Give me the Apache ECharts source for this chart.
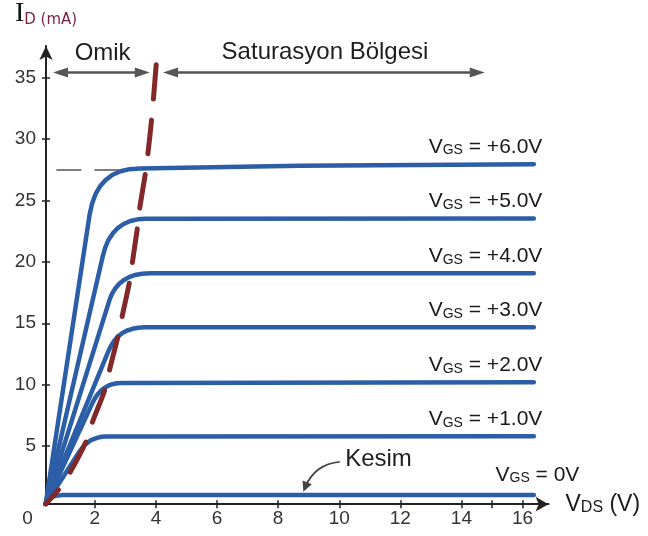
<!DOCTYPE html>
<html><head><meta charset="utf-8">
<script src="https://cdn.jsdelivr.net/npm/echarts@6/dist/echarts.min.js"></script>
<style>html,body{margin:0;padding:0;background:#fff}#c{width:648px;height:536px}</style>
</head><body><div id="c"></div>
<script>
// ---- data (V_DS in volts, I_D in mA) ----
const vgsLabels = ['0V', '+1.0V', '+2.0V', '+3.0V', '+4.0V', '+5.0V', '+6.0V'];
const curve0V = [[0.39,0.27],[0.49,0.63],[0.59,0.84],[0.72,0.94],[0.92,0.99],[1.18,1.0],[16.37,1.0]];
const curve1V = [[0.39,0.27],[1.48,4.49],[1.57,4.79],[1.66,5.05],[1.76,5.26],[1.86,5.45],[1.98,5.58],[2.10,5.68],[2.23,5.75],[2.36,5.76],[16.37,5.79]];
const curve2V = [[0.39,0.27],[1.93,8.55],[2.01,8.92],[2.10,9.24],[2.20,9.51],[2.31,9.73],[2.44,9.91],[2.57,10.03],[2.72,10.11],[2.88,10.13],[16.37,10.19]];
const curve3V = [[0.39,0.27],[2.45,12.77],[2.54,13.21],[2.64,13.60],[2.76,13.93],[2.90,14.20],[3.06,14.41],[3.23,14.55],[3.42,14.64],[3.63,14.68],[16.37,14.67]];
const curve4V = [[0.39,0.27],[2.47,16.83],[2.55,17.35],[2.66,17.81],[2.79,18.20],[2.94,18.51],[3.12,18.76],[3.32,18.94],[3.55,19.04],[3.80,19.07],[16.37,19.07]];
const curve5V = [[0.39,0.27],[2.26,20.48],[2.34,21.19],[2.45,21.81],[2.59,22.34],[2.75,22.76],[2.94,23.09],[3.16,23.34],[3.40,23.47],[3.67,23.52],[16.37,23.54]];
const curve6V = [[0.39,0.27],[1.83,23.89],[1.91,24.76],[2.02,25.52],[2.17,26.16],[2.36,26.69],[2.58,27.10],[2.84,27.39],[3.14,27.56],[3.47,27.62],[8.71,27.83],[16.37,27.97]];
const pinchOff = [[0.39,0.27],[0.8,1.4],[1.23,3.03],[1.73,5.46],[1.94,7.08],[2.32,9.52],[2.49,11.3],[2.76,13.98],[2.92,15.88],[3.14,18.45],[3.25,20.34],[3.41,23.1],[3.47,24.4],[3.67,27.52],[3.85,31.44],[4.02,36.45]];
const xTickValues = [2,4,6,8,10,12,14,15,16];
const xLabelValues = [0.4,2,4,6,8,10,12,14,16];
const yLabelValues = [5,10,15,20,25,30,35];

const FONT = 'Liberation Sans';
const BLUE = '#2c5ea8';
const curves = [curve0V, curve1V, curve2V, curve3V, curve4V, curve5V, curve6V];

function vgsRich() {
  return {
    v: {fontSize: 21, fontFamily: FONT, color: '#1a1a1a', lineHeight: 21, verticalAlign: 'bottom'},
    s: {fontSize: 14, fontFamily: FONT, color: '#1a1a1a', lineHeight: 14, verticalAlign: 'bottom'}
  };
}

const series = curves.map((d, i) => {
  const last = d[d.length - 1];
  const isZero = i === 0;
  const s = {
    type: 'line', data: d, smooth: false, showSymbol: false, symbol: 'none',
    lineStyle: {color: BLUE, width: 4.5, cap: 'round', join: 'round'},
    silent: true, z: 2,
    markPoint: {
      symbol: 'circle', symbolSize: 1, itemStyle: {color: 'rgba(0,0,0,0)'}, silent: true,
      data: [{
        coord: last,
        label: {
          show: true, position: isZero ? [46, -9] : [9, -6], align: 'right', verticalAlign: 'bottom',
          formatter: '{v|V}{s|GS}{v| = ' + vgsLabels[i] + '}', rich: vgsRich()
        }
      }]
    }
  };
  if (i === 6) {
    s.markLine = {
      silent: true, symbol: 'none', label: {show: false},
      lineStyle: {color: '#555', width: 1.5, type: [25, 13]},
      data: [[{coord: [0.74, 27.52]}, {coord: [2.87, 27.52]}]]
    };
  }
  return s;
});

const annoText = {fontSize: 24, fontFamily: FONT, color: '#1e1e1e'};
series.push({
  type: 'line', data: pinchOff, smooth: 0.3, showSymbol: false, symbol: 'none', silent: true, z: 3,
  lineStyle: {color: '#832828', width: 5, type: [34, 21], dashOffset: 15, cap: 'round'},
  markLine: {
    silent: true, label: {show: false}, symbol: ['triangle', 'triangle'], symbolSize: [10, 15],
    lineStyle: {color: '#555', width: 2.5, type: 'solid'},
    itemStyle: {color: '#333'},
    data: [
      [{coord: [0.877, 35.44]}, {coord: [3.552, 35.44]}],
      [{coord: [4.478, 35.44]}, {coord: [14.517, 35.44]}]
    ]
  },
  markPoint: {
    symbol: 'circle', symbolSize: 1, itemStyle: {color: 'rgba(0,0,0,0)'}, silent: true,
    data: [
      {coord: [2.27, 36.98], label: Object.assign({show: true, position: [0, 0], align: 'center', verticalAlign: 'middle', formatter: 'Omik'}, annoText)},
      {coord: [9.55, 37.0], label: Object.assign({show: true, position: [0, 0], align: 'center', verticalAlign: 'middle', formatter: 'Saturasyon Bölgesi'}, annoText)},
      {coord: [10.21, 3.84], label: Object.assign({show: true, position: [0, 0], align: 'left', verticalAlign: 'middle', formatter: 'Kesim'}, annoText)}
    ]
  }
});
// curved "Kesim" pointer arrow
series.push({
  type: 'lines', coordinateSystem: 'cartesian2d', silent: true, z: 4,
  symbol: ['none', 'triangle'], symbolSize: [8, 10],
  lineStyle: {color: '#444', width: 2, opacity: 1, curveness: -0.3},
  itemStyle: {color: '#444'},
  data: [{coords: [[10.016, 3.70], [8.887, 1.65]]}]
});

const axisLineStyle = {color: '#222', width: 2};
const option = {
  animation: false,
  backgroundColor: '#fff',
  grid: {left: 46, width: 502.5, top: 44, height: 460.2, containLabel: false},
  xAxis: [{
    type: 'value', min: 0.4, max: 16.85, position: 'bottom',
    axisLine: {show: true, onZero: false, lineStyle: axisLineStyle, symbol: ['none', 'arrow'], symbolSize: [11, 13]},
    axisTick: {show: true, length: 4, customValues: xTickValues, lineStyle: {color: '#222', width: 1.5}},
    axisLabel: {
      customValues: xLabelValues, margin: 5, fontSize: 19, fontFamily: FONT, color: '#333',
      formatter: v => v < 1 ? '{z|0}' : String(v),
      rich: {z: {fontSize: 19, fontFamily: FONT, color: '#333', padding: [0, 37, 0, 0]}}
    },
    splitLine: {show: false},
    name: '{v|V}{s|DS}{v| (V)}', nameLocation: 'end', nameGap: 17,
    nameTextStyle: {
      rich: {
        v: {fontSize: 23, fontFamily: FONT, color: '#1a1a1a', lineHeight: 23, verticalAlign: 'bottom'},
        s: {fontSize: 16, fontFamily: FONT, color: '#1a1a1a', lineHeight: 13, verticalAlign: 'bottom'}
      }
    }
  }, {
    type: 'value', min: 0.4, max: 16.85, position: 'bottom',
    axisLine: {show: false}, axisLabel: {show: false}, splitLine: {show: false},
    axisTick: {show: true, inside: true, length: 4, customValues: xTickValues, lineStyle: {color: '#222', width: 1.5}}
  }],
  yAxis: [{
    type: 'value', min: 0.25, max: 37.6, position: 'left',
    axisLine: {show: true, onZero: false, lineStyle: axisLineStyle, symbol: ['none', 'arrow'], symbolSize: [10, 14]},
    axisTick: {show: true, length: 4, customValues: yLabelValues, lineStyle: {color: '#222', width: 1.5}},
    axisLabel: {customValues: yLabelValues, margin: 10, fontSize: 19, fontFamily: FONT, color: '#333'},
    splitLine: {show: false},
    name: '{i|I}{s|D (mA)}', nameLocation: 'end', nameGap: 18,
    nameTextStyle: {
      rich: {
        i: {fontSize: 28, fontFamily: 'Liberation Serif', color: '#111', lineHeight: 28, verticalAlign: 'bottom'},
        s: {fontSize: 15, fontFamily: 'DejaVu Sans', color: '#7b1f48', lineHeight: 9, verticalAlign: 'bottom'}
      }
    }
  }, {
    type: 'value', min: 0.25, max: 37.6, position: 'left',
    axisLine: {show: false}, axisLabel: {show: false}, splitLine: {show: false},
    axisTick: {show: true, inside: true, length: 4, customValues: yLabelValues, lineStyle: {color: '#222', width: 1.5}}
  }],
  series: series
};
const chart = echarts.init(document.getElementById('c'), null, {renderer: 'canvas'});
chart.setOption(option);
</script>
</body></html>
